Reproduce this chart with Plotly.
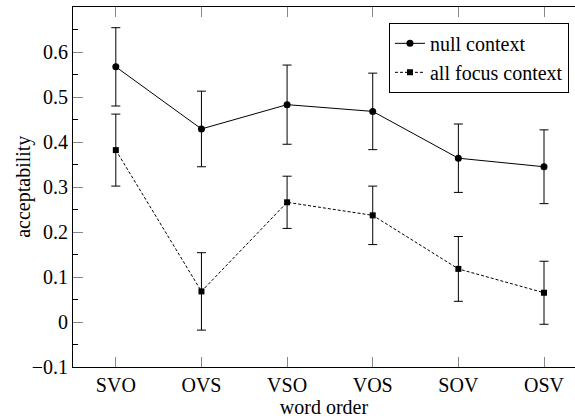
import plotly.graph_objects as go

word_orders = ["SVO", "OVS", "VSO", "VOS", "SOV", "OSV"]
null_context = [0.567, 0.429, 0.483, 0.468, 0.364, 0.345]
null_err = [0.087, 0.084, 0.088, 0.085, 0.076, 0.082]
focus_context = [0.382, 0.068, 0.266, 0.237, 0.118, 0.065]
focus_err = [0.080, 0.086, 0.058, 0.065, 0.072, 0.070]
y_ticks = [-0.1, 0, 0.1, 0.2, 0.3, 0.4, 0.5, 0.6]
y_tick_text = ["\u22120.1", "0", "0.1", "0.2", "0.3", "0.4", "0.5", "0.6"]

FONT = "Liberation Serif, Times New Roman, serif"

fig = go.Figure()
fig.add_trace(go.Scatter(
    x=word_orders, y=null_context, name="null context",
    mode="lines+markers",
    line=dict(color="black", width=1),
    marker=dict(symbol="circle", size=7, color="black"),
    error_y=dict(type="data", array=null_err, color="black", thickness=1, width=4.5),
))
fig.add_trace(go.Scatter(
    x=word_orders, y=focus_context, name="all focus context",
    mode="lines+markers",
    line=dict(color="black", width=1, dash="3px,2px"),
    marker=dict(symbol="square", size=6, color="black"),
    error_y=dict(type="data", array=focus_err, color="black", thickness=1, width=4.5),
))

fig.update_layout(
    width=575, height=418,
    margin=dict(l=73, r=0, t=7, b=51, autoexpand=False),
    paper_bgcolor="white", plot_bgcolor="white",
    font=dict(family=FONT, size=20, color="black"),
    showlegend=True,
    legend=dict(
        x=0.988, y=0.956, xanchor="right", yanchor="top",
        bgcolor="white", bordercolor="black", borderwidth=1,
        font=dict(family=FONT, size=20),
        tracegroupgap=0, itemwidth=30,
    ),
    xaxis=dict(
        type="category", range=[-0.5, 5.362], automargin=False,
        showline=True, linecolor="black", linewidth=1, mirror="ticks",
        ticks="inside", ticklen=10, tickcolor="#888", tickwidth=1,
        showgrid=False, zeroline=False,
        title=dict(text="word order", font=dict(family=FONT, size=20), standoff=2),
        tickfont=dict(family=FONT, size=20),
    ),
    yaxis=dict(
        range=[-0.1, 0.7], automargin=False,
        tickvals=y_ticks, ticktext=y_tick_text,
        showline=True, linecolor="black", linewidth=1, mirror=False,
        ticks="inside", ticklen=10, tickcolor="#888", tickwidth=1,
        minor=dict(ticks="inside", ticklen=5, tickcolor="black", dtick=0.05, tick0=0, showgrid=False),
        showgrid=False, zeroline=False,
        tickfont=dict(family=FONT, size=20),
    ),
    annotations=[dict(
        text="acceptability", xref="paper", yref="paper",
        x=-0.1, y=0.5, xanchor="center", yanchor="middle",
        textangle=-90, showarrow=False,
        font=dict(family=FONT, size=20, color="black"),
    )],
)

fig.write_html("out.html", post_script="document.body.style.margin='0';",
               config={"displayModeBar": False})
